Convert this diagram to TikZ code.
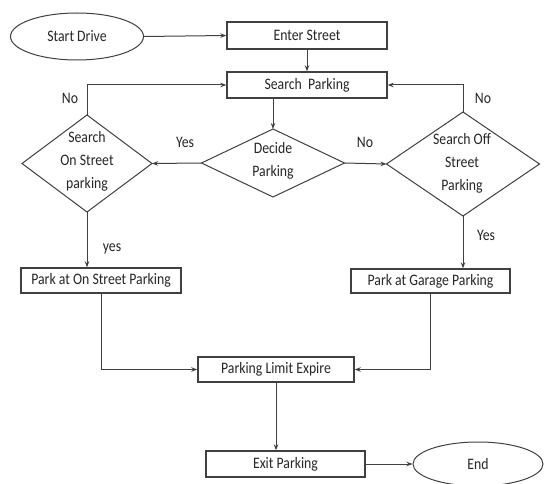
\documentclass[tikz,border=0pt]{standalone}
\usepackage{fontspec}
\setmainfont{Carlito}[FakeStretch=0.86]
\usetikzlibrary{shapes.geometric,arrows.meta}
\definecolor{ln}{gray}{0.25}
\definecolor{tx}{gray}{0.15}
\tikzset{
  every node/.style={font=\fontsize{16}{23}\selectfont, text=tx},
  boxnode/.style={draw=ln, line width=1.4pt, rectangle, inner sep=0pt},
  ovalnode/.style={draw=ln, line width=1pt, ellipse, inner sep=0pt},
  dianode/.style={draw=ln, line width=1pt, diamond, inner sep=0pt, outer sep=0pt},
  txtnode/.style={align=center, inner sep=0pt},
  lbl/.style={inner sep=0pt},
  conn/.style={draw=ln, line width=1pt, -{Stealth[length=6pt,width=4.5pt]}},
}
\begin{document}
\begin{tikzpicture}[x=1pt,y=-1pt]
\useasboundingbox[fill=white] (0,0) rectangle (547,484);
% nodes
\node[ovalnode, minimum width=133pt, minimum height=47pt] (start) at (77,36.5) {Start Drive};
\node[boxnode, minimum width=160pt, minimum height=27pt] (enter) at (307,35.5) {Enter Street};
\node[boxnode, minimum width=160pt, minimum height=26pt] (search) at (307,85) {Search\ \ Parking};
\node[dianode, minimum width=143pt, minimum height=68pt] (decide) at (273,163) {};
\node[txtnode] (decidet) at (273,161) {Decide\\Parking};
\node[dianode, minimum width=130pt, minimum height=97pt] (d1) at (87,163.5) {};
\node[txtnode] (d1t) at (87,161) {Search\\On Street\\parking};
\node[dianode, minimum width=153pt, minimum height=104pt] (d2) at (463,164) {};
\node[txtnode] (d2t) at (462,163) {Search Off\\Street\\Parking};
\node[boxnode, minimum width=160pt, minimum height=25pt] (park1) at (101,280.5) {Park at On Street Parking};
\node[boxnode, minimum width=159pt, minimum height=24pt] (park2) at (430.5,281) {Park at Garage Parking};
\node[boxnode, minimum width=156pt, minimum height=25pt] (limit) at (276,369.5) {Parking Limit Expire};
\node[boxnode, minimum width=159pt, minimum height=26pt] (exit) at (285.5,464) {Exit Parking};
\node[ovalnode, minimum width=130pt, minimum height=44pt] (end) at (478,464) {End};
% labels
\node[lbl] (l1) at (70,98) {No};
\node[lbl] (l2) at (483,98) {No};
\node[lbl] (l3) at (185,142) {Yes};
\node[lbl] (l4) at (365,142) {No};
\node[lbl] (l5) at (112,249) {yes};
\node[lbl] (l6) at (486,235) {Yes};
% connectors
\draw[conn] (start.east) -- (enter.west);
\draw[conn] (enter.south) -- (search.north);
\draw[conn] (decide.north |- search.south) -- (decide.north);
\draw[conn] (decide.west) -- (d1.east);
\draw[conn] (decide.east) -- (d2.west);
\draw[conn] (d1.north) |- (search.west);
\draw[conn] (d2.north) |- (search.east);
\draw[conn] (d1.south) -- (d1.south |- park1.north);
\draw[conn] (d2.south) -- (d2.south |- park2.north);
\draw[conn] (park1.south) |- (limit.west);
\draw[conn] (park2.south) |- (limit.east);
\draw[conn] (limit.south) -- (limit.south |- exit.north);
\draw[conn] (exit.east) -- (end.west);
\end{tikzpicture}
\end{document}
